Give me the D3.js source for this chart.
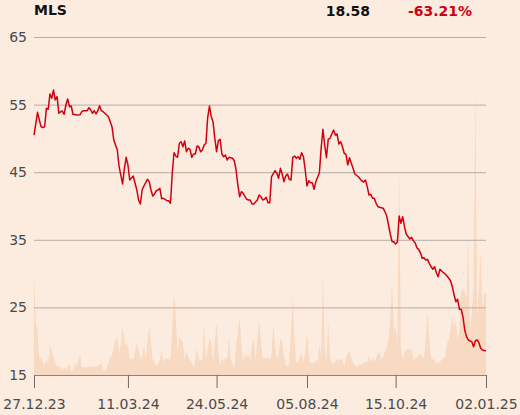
<!DOCTYPE html>
<html>
<head>
<meta charset="utf-8">
<script src="https://cdn.jsdelivr.net/npm/d3@7"></script>
<style>
  html, body { margin: 0; padding: 0; background: #fcece0; }
  svg { display: block; font-family: "DejaVu Sans", sans-serif; }
</style>
</head>
<body>
<div id="chart"></div>
<script>
// header
const ticker = 'MLS', lastPrice = '18.58', change = '-63.21%';

// x axis: session index and date labels
const tickSessions = [0, 53, 103, 154, 204, 255];
const tickLabels = ['27.12.23', '11.03.24', '24.05.24', '05.08.24', '15.10.24', '02.01.25'];
const yTicks = [15, 25, 35, 45, 55, 65];

// close price (session index, value)
const priceSessions = [0,2,3,4,5,6,7,8,9,10,11,12,13,14,15,16,17,18,19,20,21,22,24,26,27,28,30,31,32,33,34,35,36,37,38,39,41,42,44,45,47,48,50,51,52,53,54,56,58,59,60,61,62,64,65,66,67,68,69,70,71,72,73,74,75,76,77,78,79,80,81,82,83,84,85,86,87,88,89,90,91,92,93,94,95,96,97,98,99,100,101,102,103,104,105,106,107,108,109,110,111,112,113,114,115,116,117,118,120,121,122,123,124,126,127,128,129,130,131,132,133,134,136,137,138,139,140,141,142,143,144,145,146,147,148,149,150,151,152,153,154,155,156,157,158,159,161,162,163,164,165,166,167,168,169,170,171,172,173,174,175,176,177,178,179,180,181,183,184,185,186,187,188,189,190,191,192,193,194,196,197,198,199,200,201,202,203,204,205,206,207,208,209,210,212,213,214,215,216,217,218,219,220,221,222,223,224,225,226,227,228,229,231,232,233,234,235,236,237,238,239,240,241,242,243,244,245,246,247,248,249,250,251,252,253,254,255];
const priceValues = [50.50,53.86,52.72,51.73,51.58,51.73,54.45,54.30,56.57,55.93,57.16,55.68,56.17,53.71,53.95,54.05,53.57,54.94,55.83,54.69,54.79,53.57,53.46,53.51,53.95,54.10,54.10,54.54,54.20,53.71,54.10,53.61,54.10,54.84,54.10,53.95,53.46,53.21,51.73,49.76,48.28,45.81,43.25,45.58,47.20,46.07,43.85,44.44,42.37,40.89,40.30,42.37,42.96,43.95,43.60,42.37,41.48,41.78,42.26,42.37,42.62,41.08,41.14,40.99,40.78,40.78,40.40,44.84,47.88,47.40,47.20,49.28,49.51,48.77,49.62,48.03,48.54,48.39,47.20,47.69,47.69,48.88,48.77,48.03,48.28,49.02,49.28,53.12,54.79,53.21,52.47,50.01,48.03,49.66,49.87,47.69,47.29,47.54,46.80,47.20,47.14,47.06,46.66,45.33,43.11,41.38,42.12,41.88,40.99,40.89,40.89,40.30,40.30,40.89,41.63,41.38,40.89,40.99,41.29,40.49,40.49,44.33,45.22,44.84,44.10,45.58,44.73,43.60,44.44,44.73,43.95,43.85,47.20,47.40,47.06,47.29,46.91,47.88,47.29,45.33,42.96,43.74,43.45,43.45,42.47,43.60,44.93,48.54,51.35,49.02,47.14,49.87,50.01,50.65,51.24,50.50,50.65,49.17,49.51,48.77,47.80,47.65,46.07,47.14,46.32,45.58,44.73,44.33,43.99,43.70,43.55,43.85,42.86,41.63,41.73,41.14,41.14,40.40,39.90,39.75,39.66,39.16,38.52,37.19,35.86,34.72,34.72,34.38,34.63,38.52,37.44,38.42,36.94,35.86,35.12,35.37,34.87,34.57,33.83,33.59,33.09,32.26,32.35,32.01,32.11,31.52,31.02,30.64,31.02,30.13,29.54,30.64,30.13,29.94,29.64,29.31,28.95,28.06,26.83,25.84,26.20,24.72,24.72,23.62,21.66,20.67,20.18,20.03,19.93,19.19,20.07,20.18,19.78,18.95,18.70,18.62,18.58];

// traded volume, thousands (session index, value)
const volSessions = [0,1,2,3,4,6,7,8,9,11,12,13,15,16,17,18,20,21,22,23,24,26,27,29,30,32,33,35,36,38,39,40,41,42,43,44,45,46,47,48,49,50,51,52,53,54,55,56,58,59,60,61,62,63,65,66,67,68,69,71,72,73,74,76,77,78,79,80,81,82,84,85,86,87,89,90,91,92,93,95,96,97,99,100,101,103,104,105,106,107,108,109,110,111,113,114,116,117,118,119,120,121,122,123,124,125,127,128,129,130,132,133,134,135,136,137,138,139,140,141,142,143,144,146,147,148,149,150,151,152,153,154,155,156,158,159,160,161,162,163,164,165,166,167,168,170,171,172,174,175,176,178,179,180,182,183,185,186,188,189,190,191,192,194,195,196,197,199,200,201,202,203,204,205,206,207,208,209,210,211,212,213,214,216,217,218,220,221,222,223,224,226,227,229,230,232,233,234,235,236,237,238,239,240,241,243,244,245,246,248,249,250,252,253,254,255];
const volValues = [255,130,112,42,42,22,40,28,75,45,30,22,20,12,20,12,30,8,12,30,20,52,20,18,20,22,18,22,22,30,12,8,18,30,45,48,68,88,95,55,80,122,88,70,82,38,40,38,80,62,45,40,75,40,125,80,38,32,22,38,62,32,40,40,38,120,208,142,55,95,80,38,60,45,30,20,38,68,38,38,132,38,92,80,32,132,62,22,45,32,45,38,95,38,18,75,145,75,30,52,45,50,38,75,88,38,140,88,40,42,45,38,50,130,70,38,50,92,82,50,25,20,30,198,88,30,32,45,55,32,55,108,50,30,30,38,32,80,45,258,70,38,135,50,25,32,42,35,40,20,45,60,45,30,20,25,25,30,32,48,32,45,32,55,55,42,45,70,88,138,232,112,120,80,532,70,38,55,62,65,62,65,38,45,50,55,40,88,158,88,42,38,30,32,38,45,80,88,112,150,120,138,88,112,212,212,188,342,105,220,732,138,312,155,205,205];

const W = 520, H = 415;
const margin = {left: 34, right: 34, top: 37, bottom: 40};
const font = '"DejaVu Sans", sans-serif';

const svg = d3.select('#chart').append('svg')
  .attr('width', W)
  .attr('height', H);

svg.append('rect').attr('width', W).attr('height', H).attr('fill', '#fcece0');

const x = d3.scaleLinear().domain([0, 255]).range([margin.left, W - margin.right]);
const y = d3.scaleLinear().domain([15, 65]).range([H - margin.bottom, margin.top]);
const yVol = d3.scaleLinear().domain([0, 845]).range([H - margin.bottom, margin.top]);

// volume in background
const volData = volSessions.map((s, i) => ({s: s, v: volValues[i]}));
svg.append('path')
  .datum(volData)
  .attr('fill', '#f8d9c2')
  .attr('d', d3.area().x(d => x(d.s)).y0(yVol(0)).y1(d => yVol(d.v)));

// gridlines + y labels
const yAxis = svg.append('g')
  .attr('transform', `translate(${margin.left},0)`)
  .call(d3.axisLeft(y).tickValues(yTicks).tickSize(-(W - margin.left - margin.right)).tickPadding(7));
yAxis.attr('font-family', font);
yAxis.select('.domain').remove();
yAxis.selectAll('line').attr('stroke', '#b4aca6');
yAxis.selectAll('text').attr('fill', '#4a4a4a').style('font-size', '14px');

// x axis
const xAxis = svg.append('g')
  .attr('transform', `translate(0,${H - margin.bottom})`)
  .call(d3.axisBottom(x).tickValues(tickSessions).tickFormat((d, i) => tickLabels[i]).tickSize(13).tickSizeOuter(0).tickPadding(11));
xAxis.attr('font-family', font);
xAxis.select('.domain').attr('stroke', '#8a8480');
xAxis.selectAll('line').attr('stroke', '#6e6a66');
xAxis.selectAll('text').attr('fill', '#4a4a4a').style('font-size', '14px');

// price line
const priceData = priceSessions.map((s, i) => ({s: s, v: priceValues[i]}));
svg.append('path')
  .datum(priceData)
  .attr('fill', 'none')
  .attr('stroke', '#d0000f')
  .attr('stroke-width', 1.5)
  .attr('stroke-linejoin', 'round')
  .attr('d', d3.line().x(d => x(d.s)).y(d => y(d.v)));

// header
svg.append('text').attr('x', 34).attr('y', 15)
  .style('font-size', '14px').style('font-weight', 'bold').attr('fill', '#111')
  .text(ticker);
svg.append('text').attr('x', 370).attr('y', 16).attr('text-anchor', 'end')
  .style('font-size', '14px').style('font-weight', 'bold').attr('fill', '#111')
  .text(lastPrice);
svg.append('text').attr('x', 472).attr('y', 16).attr('text-anchor', 'end')
  .style('font-size', '14px').style('font-weight', 'bold').attr('fill', '#d0000f')
  .text(change);
</script>
</body>
</html>
